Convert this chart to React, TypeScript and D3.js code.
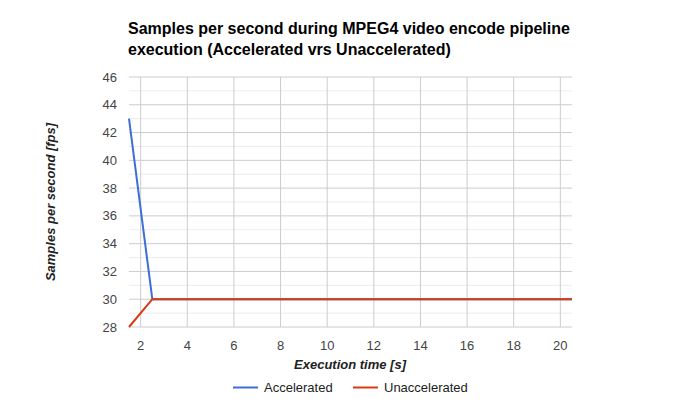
import React from "react";
import * as d3 from "d3";

const times = [1.5, 2.5, 3.5, 4.5, 5.5, 6.5, 7.5, 8.5, 9.5, 10.5, 11.5, 12.5, 13.5, 14.5, 15.5, 16.5, 17.5, 18.5, 19.5, 20.5];
const accelerated = [43, 30, 30, 30, 30, 30, 30, 30, 30, 30, 30, 30, 30, 30, 30, 30, 30, 30, 30, 30];
const unaccelerated = [28, 30, 30, 30, 30, 30, 30, 30, 30, 30, 30, 30, 30, 30, 30, 30, 30, 30, 30, 30];
const xTicks = [2, 4, 6, 8, 10, 12, 14, 16, 18, 20];
const yTicks = [28, 30, 32, 34, 36, 38, 40, 42, 44, 46];
const yMinor = [29, 31, 33, 35, 37, 39, 41, 43, 45];
const seriesNames = ["Accelerated", "Unaccelerated"];
const seriesColors = ["#3c6fd6", "#dc3912"];

export default function App() {
  const W = 700, H = 405;
  const left = 129, right = 572, top = 77, bottom = 327;
  const x = d3.scaleLinear().domain([1.5, 20.5]).range([left, right]);
  const y = d3.scaleLinear().domain([28, 46]).range([bottom, top]);
  const line = d3.line<number>().x((_, i) => x(times[i])).y((d) => y(d));
  const font = "Arial, 'Liberation Sans', sans-serif";
  const series = [accelerated, unaccelerated];
  const legendX = [233, 353];
  return (
    <svg width={W} height={H} style={{ position: "absolute", left: 0, top: 0, background: "#fff" }} fontFamily={font}>
      <rect width={W} height={H} fill="#fff" />
      <text x={128} y={34} fontSize={16} fontWeight="bold" fill="#000">
        Samples per second during MPEG4 video encode pipeline
      </text>
      <text x={128} y={55} fontSize={16} fontWeight="bold" fill="#000">
        execution (Accelerated vrs Unaccelerated)
      </text>
      {yMinor.map((v) => (
        <line key={"m" + v} x1={left} x2={right} y1={y(v)} y2={y(v)} stroke="#ececec" />
      ))}
      {yTicks.map((v) => (
        <line key={"g" + v} x1={left} x2={right} y1={y(v)} y2={y(v)} stroke="#cccccc" />
      ))}
      {xTicks.map((v) => (
        <line key={"x" + v} x1={x(v)} x2={x(v)} y1={top} y2={bottom} stroke="#cccccc" />
      ))}
      {yTicks.map((v) => (
        <text key={"yl" + v} x={117} y={y(v) + 4.5} textAnchor="end" fontSize={13} fill="#444">
          {v}
        </text>
      ))}
      {xTicks.map((v) => (
        <text key={"xl" + v} x={x(v)} y={350} textAnchor="middle" fontSize={13} fill="#444">
          {v}
        </text>
      ))}
      {series.map((s, i) => (
        <path key={"s" + i} d={line(s) || ""} fill="none" stroke={seriesColors[i]} strokeWidth={2} />
      ))}
      <text x={350} y={369} textAnchor="middle" fontSize={13} fontWeight="bold" fontStyle="italic" fill="#222">
        Execution time [s]
      </text>
      <text transform="translate(55,202) rotate(-90)" textAnchor="middle" fontSize={13} fontWeight="bold" fontStyle="italic" fill="#222">
        Samples per second [fps]
      </text>
      {seriesNames.map((n, i) => {
        const lx = legendX[i];
        return (
          <g key={n}>
            <line x1={lx} x2={lx + 25} y1={387.5} y2={387.5} stroke={seriesColors[i]} strokeWidth={2} />
            <text x={lx + 31} y={392} fontSize={13} fill="#222">
              {n}
            </text>
          </g>
        );
      })}
    </svg>
  );
}
